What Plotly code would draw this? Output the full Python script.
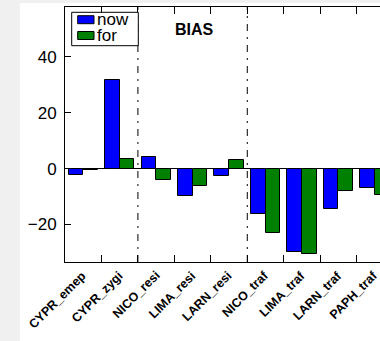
import numpy as np
import plotly.graph_objects as go

# Station bias of the current run ("now") and the forecast ("for")
stations = ["CYPR_emep", "CYPR_zygi", "NICO_resi", "LIMA_resi", "LARN_resi",
            "NICO_traf", "LIMA_traf", "LARN_traf", "PAPH_traf"]
bias_now = [-2.3, 31.7, 4.1, -9.8, -2.6, -16.4, -29.8, -14.3, -7.1]
bias_for = [-0.4, 3.5, -4.0, -6.2, 3.1, -23.1, -30.7, -7.9, -9.3]
series_names = ["now", "for"]
series_colors = ["#0000ff", "#008000"]
y_ticks = [-20, 0, 20, 40]
title_text = "BIAS"

# Figure geometry (pixels)
W, H = 380, 341
ML, MR, MT, MB = 65, 0, 7, 79
X_RANGE = [-0.1, 8.54]
Y_RANGE = [-33.4, 57.75]
BAR_W = 0.4
FONT = "Liberation Sans, Arial, sans-serif"

idx = np.arange(len(stations))
tick_pos = idx + 2 * BAR_W + 0.1          # ticks sit in the gap after each pair

plot_w = W - ML - MR
plot_h = H - MT - MB
px_per_unit = plot_w / (X_RANGE[1] - X_RANGE[0])


def px_x(px):
    return (px - ML) / plot_w


def px_y(py):
    return (H - MB - py) / plot_h


# Station class: background / residential / traffic; dividers between classes
def station_class(name):
    suffix = name.split("_")[1]
    return suffix if suffix in ("resi", "traf") else "bkg"


classes = [station_class(s) for s in stations]
dividers = [tick_pos[i] for i in range(len(stations) - 1)
            if classes[i] != classes[i + 1]]

fig = go.Figure()
for k, (name, vals, color) in enumerate(zip(series_names, [bias_now, bias_for], series_colors)):
    fig.add_trace(go.Bar(
        x=idx + BAR_W * (k + 0.5), y=vals, width=BAR_W, name=name,
        marker=dict(color=color, line=dict(color="black", width=1)),
        showlegend=False,
    ))

shapes = [
    # white figure area over the grey page
    dict(type="rect", xref="paper", yref="paper", layer="below",
         x0=px_x(20), x1=px_x(W + 5), y0=px_y(H + 5), y1=px_y(3),
         fillcolor="white", line=dict(width=0)),
]
for d in dividers:
    shapes.append(dict(type="line", xref="x", yref="paper", x0=d, x1=d, y0=0, y1=1,
                       line=dict(color="black", width=1, dash="7px,6px,2px,6px")))

# legend box
LEG_X0, LEG_X1, LEG_Y0, LEG_Y1 = 71.7, 138.3, 12.3, 45.7
shapes.append(dict(type="rect", xref="paper", yref="paper",
                   x0=px_x(LEG_X0), x1=px_x(LEG_X1), y0=px_y(LEG_Y1), y1=px_y(LEG_Y0),
                   fillcolor="white", line=dict(color="black", width=1)))
annotations = []
row_centers = [19.7, 35.5]
for name, color, yc in zip(series_names, series_colors, row_centers):
    shapes.append(dict(type="rect", xref="paper", yref="paper",
                       x0=px_x(77.7), x1=px_x(94), y0=px_y(yc + 4), y1=px_y(yc - 4),
                       fillcolor=color, line=dict(color="black", width=1)))
    annotations.append(dict(text=name, xref="paper", yref="paper", x=px_x(96), y=px_y(yc),
                            xanchor="left", yanchor="middle", showarrow=False,
                            borderpad=0, height=15,
                            font=dict(family=FONT, size=17, color="black")))

annotations.append(dict(text="<b>%s</b>" % title_text, xref="paper", yref="paper",
                        x=px_x(194), y=px_y(29), xanchor="center", yanchor="middle",
                        showarrow=False, font=dict(family=FONT, size=16, color="black")))

# Rotated station labels ending just left of each tick. The anchor is set left of the
# tick and pushed back by whole pixels so the last label (tick past the visible
# range) is still drawn.
LABEL_SHIFT_PX = 20
LABEL_GAP_X, LABEL_GAP_Y = 11, 5
label_shift = LABEL_SHIFT_PX / px_per_unit
for name, tp in zip(stations, tick_pos):
    annotations.append(dict(text="<b>%s</b>" % name, xref="x", yref="paper",
                            x=tp - label_shift, y=0,
                            xshift=LABEL_SHIFT_PX - LABEL_GAP_X, yshift=-LABEL_GAP_Y,
                            xanchor="right", yanchor="top", textangle=-45,
                            showarrow=False, borderpad=0,
                            font=dict(family=FONT, size=12.5, color="black")))

fig.update_layout(
    width=W, height=H,
    margin=dict(l=ML, r=MR, t=MT, b=MB, pad=0),
    paper_bgcolor="#f0f0f0", plot_bgcolor="white",
    barmode="overlay", bargap=0,
    font=dict(family=FONT, color="black"),
    shapes=shapes, annotations=annotations,
    xaxis=dict(range=X_RANGE, tickvals=tick_pos, ticks="inside", ticklen=7,
               tickcolor="black", tickwidth=1, mirror="ticks", showline=True,
               linecolor="black", linewidth=1, showticklabels=False,
               showgrid=False, zeroline=False),
    yaxis=dict(range=Y_RANGE, tickvals=y_ticks, ticks="inside", ticklen=6,
               tickcolor="black", tickwidth=1, showline=True, linecolor="black",
               linewidth=1, mirror=False, showgrid=False, zeroline=True,
               zerolinecolor="black", zerolinewidth=1, ticklabelstandoff=4,
               tickfont=dict(family=FONT, size=17, color="black")),
)

fig.write_html("out.html")
